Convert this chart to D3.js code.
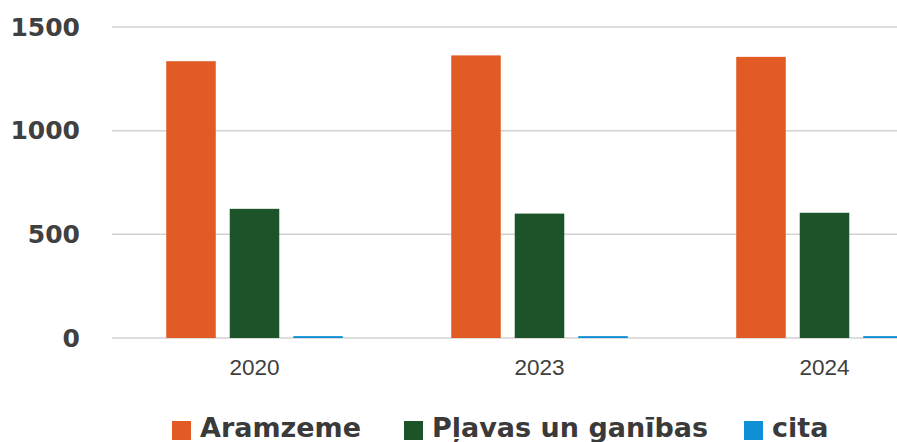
<!DOCTYPE html>
<html>
<head>
<meta charset="utf-8">
<script src="https://cdn.jsdelivr.net/npm/d3@7"></script>
<style>
  html, body { margin: 0; padding: 0; background: #fff; overflow: hidden; }
  #chart-container { width: 897px; height: 442px; }
</style>
</head>
<body>
<div id="chart-container"></div>
<script>
// data
const years = ['2020', '2023', '2024'];
const seriesNames = ['Aramzeme', 'Pļavas un ganības', 'cita'];
const aramzeme = [1335, 1363, 1356];
const plavas = [623, 600, 604];
const cita = [9, 9, 9];
const yTicks = [0, 500, 1000, 1500];

const colors = ['#e25a24', '#1d5329', '#0e8fd6'];
const seriesValues = [aramzeme, plavas, cita];

const width = 897, height = 442;
const margin = { top: 27, left: 112, bottom: 104 };
const groupStep = 285;

const svg = d3.select('#chart-container')
  .append('svg')
  .attr('width', width)
  .attr('height', height);

const x = d3.scaleBand()
  .domain(years)
  .range([margin.left, margin.left + groupStep * years.length])
  .padding(0);

const xInner = d3.scaleBand()
  .domain(seriesNames)
  .range([0, x.bandwidth()])
  .paddingInner(0.22)
  .paddingOuter(0.854);

const y = d3.scaleLinear()
  .domain([0, 1500])
  .range([height - margin.bottom, margin.top]);

// gridlines
svg.append('g')
  .attr('class', 'grid')
  .selectAll('line')
  .data(yTicks)
  .enter().append('line')
  .attr('x1', margin.left)
  .attr('x2', width)
  .attr('y1', d => y(d))
  .attr('y2', d => y(d))
  .attr('stroke', '#d2d2d2')
  .attr('stroke-width', 1.5);

// y axis labels
const yAxis = svg.append('g')
  .attr('transform', 'translate(80,0)')
  .call(d3.axisLeft(y).tickValues(yTicks).tickFormat(d3.format('d')).tickSize(0).tickPadding(0));
yAxis.select('.domain').remove();
yAxis.selectAll('text')
  .attr('font-family', '"DejaVu Sans", sans-serif')
  .attr('font-weight', 'bold')
  .attr('font-size', 25)
  .attr('fill', '#404040');

// bars
seriesNames.forEach((name, si) => {
  svg.append('g')
    .selectAll('rect')
    .data(years.map((yr, i) => ({ yr, v: seriesValues[si][i] })))
    .enter().append('rect')
    .attr('x', d => x(d.yr) + xInner(name))
    .attr('width', xInner.bandwidth())
    .attr('y', d => y(d.v))
    .attr('height', d => y(0) - y(d.v))
    .attr('fill', colors[si]);
});

// x axis labels
const xAxis = svg.append('g')
  .attr('transform', `translate(0,${y(0)})`)
  .call(d3.axisBottom(x).tickSize(0).tickPadding(21));
xAxis.select('.domain').remove();
xAxis.selectAll('text')
  .attr('font-family', '"Liberation Sans", Arial, sans-serif')
  .attr('font-size', 22.5)
  .attr('fill', '#404040');

// legend
const legendX = [172, 404, 744];
const legend = svg.append('g');
seriesNames.forEach((name, i) => {
  const g = legend.append('g').attr('transform', `translate(${legendX[i]},0)`);
  g.append('rect')
    .attr('x', 0)
    .attr('y', 421)
    .attr('width', 19)
    .attr('height', 19)
    .attr('fill', colors[i]);
  g.append('text')
    .attr('x', 28)
    .attr('y', 437)
    .attr('font-family', '"DejaVu Sans", sans-serif')
    .attr('font-weight', 'bold')
    .attr('font-size', 27)
    .attr('fill', '#3a3a3a')
    .text(name);
});
</script>
</body>
</html>
